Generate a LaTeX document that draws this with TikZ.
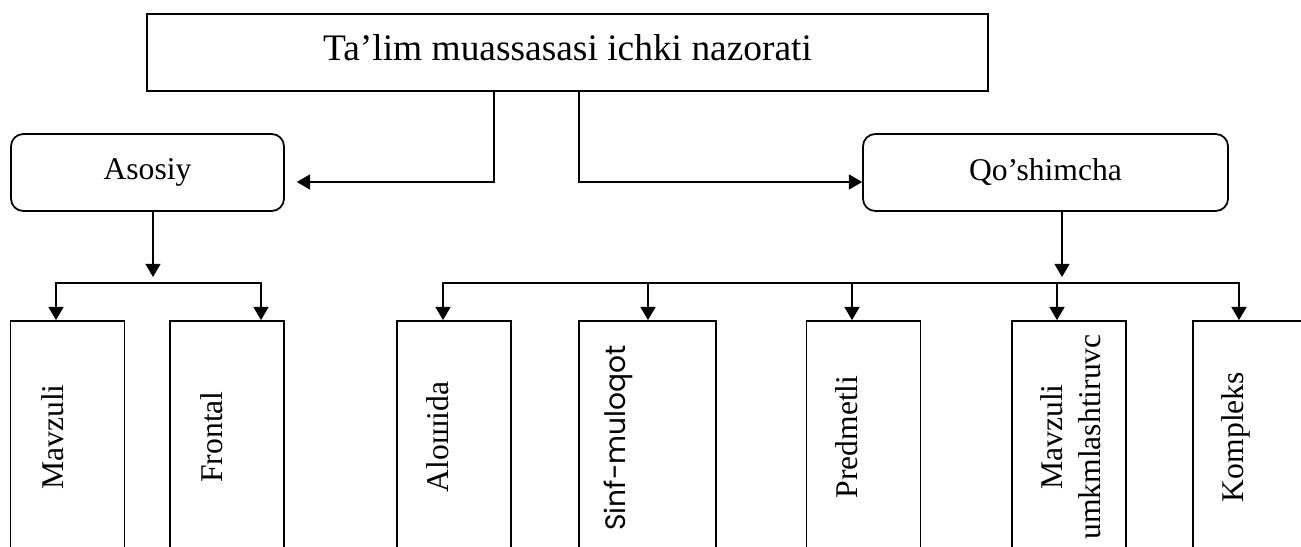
\documentclass[tikz,border=0pt]{standalone}
\usepackage{fontspec}
\setmainfont{Liberation Serif}
\newfontfamily\gothicfont{Poppins}
\usetikzlibrary{arrows.meta}
\newcommand{\pxu}{0.02cm}

\begin{document}
\begin{tikzpicture}[x=0.02cm, y=-0.02cm, line width=1pt,
        arrow/.style={-{Triangle[length=7.5pt,width=8.5pt]}},
        topbox/.style={draw, minimum width=841*\pxu, minimum height=77*\pxu,
            font=\fontsize{21.3}{25}\selectfont, text height=15pt, text depth=5.4pt},
        mainbox/.style={draw, rounded corners=7pt, minimum height=77*\pxu,
            font=\fontsize{18}{22}\selectfont},
        kindbox/.style={draw, minimum width=114*\pxu, minimum height=232*\pxu},
        kindtext/.style={rotate=90, anchor=base, font=\fontsize{18}{21.5}\selectfont}]

        % Frame
        \useasboundingbox (0,0) rectangle (1301,547);
        \clip (0,0) rectangle (1301,547);

        % Top box
        \node[topbox] (nazorat) at (567.5,52.5) {Ta’lim muassasasi ichki nazorati};

        % Two kinds of control
        \node[mainbox, minimum width=273*\pxu] (asosiy) at (147.5,172.5) {Asosiy};
        \node[mainbox, minimum width=365*\pxu] (qoshimcha) at (1045.5,172.5) {Qo’shimcha};

        % Bottom boxes (cut by the lower edge)
        \node[kindbox] (mavzuli) at (67.5,437) {};
        \node[kindbox] (frontal) at (227,437) {};
        \node[kindbox] (alohida) at (454,437) {};
        \node[kindbox, minimum width=137*\pxu] (sinf) at (647.5,437) {};
        \node[kindbox] (predmetli) at (863.5,437) {};
        \node[kindbox] (umk) at (1069,437) {};
        \node[kindbox] (kompleks) at (1250,437) {};

        % Vertical labels
        \node[kindtext] (mavzuli-t) at (63,437) {Mavzuli};
        \node[kindtext] (frontal-t) at (222,437) {Frontal};
        \node[kindtext] (alohida-t) at (448,437) {Aloшida};
        \node[kindtext, font=\gothicfont\fontsize{16}{19}\selectfont] (sinf-t) at (625,438) {Sinf-muloqot};
        \node[kindtext] (predmetli-t) at (857,437) {Predmetli};
        \node[kindtext, anchor=center, align=center] (umk-t) at (1071,437) {Mavzuli\\umkmlashtiruvc};
        \node[kindtext] (kompleks-t) at (1243,437) {Kompleks};

        % Connectors from the top box
        \coordinate (left-turn) at (494,182);
        \coordinate (right-turn) at (579,182);
        \draw[arrow, shorten >=6.8pt] (left-turn |- nazorat.south) -- (left-turn) -- (left-turn -| asosiy.east);
        \draw[arrow] (right-turn |- nazorat.south) -- (right-turn) -- (right-turn -| qoshimcha.west);

        % Branch bars
        \coordinate (a-split) at (153,283);
        \coordinate (q-split) at (1062,283);
        \draw[arrow, shorten >=3.4pt] (a-split |- asosiy.south) -- (a-split);
        \draw[arrow, shorten >=3.4pt] (q-split |- qoshimcha.south) -- (q-split);
        \coordinate (a1) at (56,283);
        \coordinate (a2) at (261,283);
        \coordinate (q1) at (443,283);
        \coordinate (q2) at (648,283);
        \coordinate (q3) at (852,283);
        \coordinate (q4) at (1057,283);
        \coordinate (q5) at (1239,283);
        \draw[line cap=rect] (a1) -- (a2);
        \draw[line cap=rect] (q1) -- (q5);
        \foreach \c/\b in {a1/mavzuli, a2/frontal, q1/alohida, q2/sinf, q3/predmetli, q4/umk, q5/kompleks}
            \draw[arrow] (\c) -- (\c |- \b.north);

    \end{tikzpicture}
\end{document}
